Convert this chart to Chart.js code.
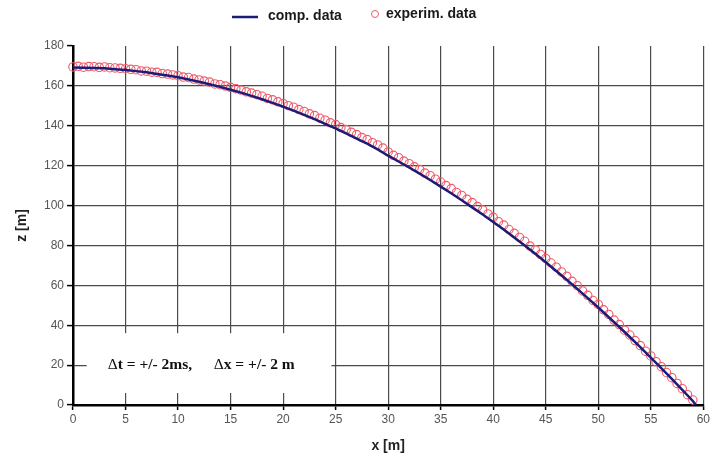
<!DOCTYPE html>
<html>
<head>
<meta charset="utf-8">
<script src="https://cdn.jsdelivr.net/npm/chart.js@4.4.1/dist/chart.umd.min.js"></script>
<style>
html, body { margin: 0; padding: 0; background: #fff; }
#wrap { width: 712px; height: 461px; position: relative; }
</style>
</head>
<body>
<div id="wrap"><canvas id="myChart"></canvas></div>
<script>
// computed trajectory
const compX = [0, 1, 2, 3, 4, 5, 6, 7, 8, 9, 10, 11, 12, 13, 14, 15, 16, 17, 18, 19,
  20, 21, 22, 23, 24, 25, 26, 27, 28, 29, 30, 31, 32, 33, 34, 35, 36, 37, 38, 39,
  40, 41, 42, 43, 44, 45, 46, 47, 48, 49, 50, 51, 52, 53, 54, 55, 56, 57, 58, 59, 59.3]
const compZ = [169.2, 169.1, 169.0, 168.8, 168.4, 168.0, 167.4, 166.8, 166.0, 165.2,
  164.3, 163.2, 162.1, 160.8, 159.5, 158.1, 156.6, 155.0, 153.3, 151.5,
  149.6, 147.6, 145.5, 143.3, 141.0, 138.7, 136.2, 133.6, 131.0, 128.2,
  125.0, 122.1, 119.1, 116.0, 112.8, 109.5, 106.2, 102.7, 99.1, 95.5,
  91.8, 88.0, 84.0, 80.0, 75.8, 71.6, 67.2, 62.8, 58.2, 53.6,
  48.9, 44.0, 39.1, 34.1, 29.0, 23.8, 18.5, 13.1, 7.6, 2.0, 0]

// measured points
const expX = [0, 0.5, 1, 1.5, 2, 2.5, 3, 3.5, 4, 4.5, 5, 5.5, 6, 6.5, 7, 7.5, 8, 8.5, 9, 9.5,
  10, 10.5, 11, 11.5, 12, 12.5, 13, 13.5, 14, 14.5, 15, 15.5, 16, 16.5, 17, 17.5, 18, 18.5, 19, 19.5,
  20, 20.5, 21, 21.5, 22, 22.5, 23, 23.5, 24, 24.5, 25, 25.5, 26, 26.5, 27, 27.5, 28, 28.5, 29, 29.5,
  30, 30.5, 31, 31.5, 32, 32.5, 33, 33.5, 34, 34.5, 35, 35.5, 36, 36.5, 37, 37.5, 38, 38.5, 39, 39.5,
  40, 40.5, 41, 41.5, 42, 42.5, 43, 43.5, 44, 44.5, 45, 45.5, 46, 46.5, 47, 47.5, 48, 48.5, 49, 49.5,
  50, 50.5, 51, 51.5, 52, 52.5, 53, 53.5, 54, 54.5, 55, 55.5, 56, 56.5, 57, 57.5, 58, 58.5, 59]
const expZ = [169.5, 169.8, 169.4, 169.7, 169.6, 169.3, 169.5, 169.1, 169.0, 168.8,
  168.6, 168.3, 168.1, 167.5, 167.4, 166.9, 166.8, 166.2, 165.9, 165.5,
  165.1, 164.4, 164.2, 163.4, 163.0, 162.4, 161.9, 161.0, 160.6, 159.9,
  159.3, 158.6, 157.9, 157.0, 156.4, 155.6, 154.8, 153.7, 153.0, 152.0,
  151.2, 150.1, 149.3, 148.1, 147.2, 146.0, 145.1, 143.8, 142.8, 141.5,
  140.6, 139.1, 138.1, 136.7, 135.6, 134.1, 133.1, 131.5, 130.4, 128.8,
  126.9, 125.2, 124.0, 122.3, 121.0, 119.4, 118.1, 116.3, 115.0, 113.2,
  111.8, 110.0, 108.5, 106.6, 105.1, 103.1, 101.5, 99.5, 97.8, 95.8,
  94.1, 91.9, 90.2, 88.0, 86.1, 84.0, 82.1, 79.7, 77.8, 75.5,
  73.5, 71.2, 69.1, 66.7, 64.5, 62.0, 59.8, 57.2, 55.0, 52.4,
  50.4, 47.7, 45.4, 42.6, 40.3, 37.5, 35.1, 32.3, 29.8, 27.0,
  24.6, 21.7, 19.2, 16.3, 13.7, 10.8, 8.2, 5.2, 2.5]

const xTicks = [0, 60, 5]   // min, max, step
const zTicks = [0, 180, 20]

const navy = '#1c1c78'
const pink = '#ee5a6a'

const compData = compX.map((x, i) => ({ x: x, y: compZ[i] }))
const expData = expX.map((x, i) => ({ x: x, y: expZ[i] }))

// white note box with the error bounds, placed in data units
const noteBox = { x0: 1.3, x1: 24.6, z0: 6, z1: 36 }
const notePlugin = {
  id: 'note',
  beforeDatasetsDraw(chart) {
    const { ctx, scales: { x, y } } = chart
    const l = x.getPixelForValue(noteBox.x0), r = x.getPixelForValue(noteBox.x1)
    const t = y.getPixelForValue(noteBox.z1), b = y.getPixelForValue(noteBox.z0)
    ctx.save()
    ctx.fillStyle = '#fff'
    ctx.fillRect(l, t, r - l, b - t)
    const ty = y.getPixelForValue(20)
    ctx.fillStyle = '#111'
    ctx.textBaseline = 'middle'
    const parts = [[3.3, 't = +/- 2ms,'], [13.4, 'x = +/- 2 m']]
    parts.forEach(([xv, txt]) => {
      let px = x.getPixelForValue(xv)
      ctx.font = '15.5px "Liberation Serif", "Times New Roman", serif'
      ctx.fillText('\u0394', px, ty)
      px += ctx.measureText('\u0394').width
      ctx.font = 'bold 15.5px "Liberation Serif", "Times New Roman", serif'
      ctx.fillText(txt, px, ty)
    })
    ctx.restore()
  }
}

const legendPlugin = {
  id: 'topLegend',
  afterDraw(chart) {
    const ctx = chart.ctx
    ctx.save()
    ctx.strokeStyle = navy
    ctx.lineWidth = 2.5
    ctx.beginPath()
    ctx.moveTo(232, 17)
    ctx.lineTo(258, 17)
    ctx.stroke()
    ctx.strokeStyle = pink
    ctx.lineWidth = 1
    ctx.beginPath()
    ctx.arc(375, 14, 3.5, 0, Math.PI * 2)
    ctx.stroke()
    ctx.fillStyle = '#1a1a1a'
    ctx.font = 'bold 14px "Liberation Sans", Arial, sans-serif'
    ctx.textBaseline = 'middle'
    ctx.fillText('comp. data', 268, 16)
    ctx.fillText('experim. data', 386, 14)
    ctx.restore()
  }
}

new Chart(document.getElementById('myChart'), {
  type: 'scatter',
  data: {
    datasets: [{
      label: 'comp. data',
      data: compData,
      showLine: true,
      borderColor: navy,
      borderWidth: 2.5,
      pointRadius: 0,
      tension: 0,
      order: 1
    }, {
      label: 'experim. data',
      data: expData,
      showLine: false,
      pointStyle: 'circle',
      pointRadius: 4.2,
      borderColor: pink,
      borderWidth: 1.1,
      backgroundColor: 'rgba(0,0,0,0)',
      clip: false,
      order: 2
    }]
  },
  plugins: [notePlugin, legendPlugin],
  options: {
    responsive: true,
    maintainAspectRatio: false,
    animation: false,
    layout: { padding: { left: 0, right: 4, top: 46, bottom: 0 } },
    plugins: {
      legend: { display: false },
      tooltip: { enabled: false }
    },
    scales: {
      x: {
        type: 'linear',
        min: xTicks[0],
        max: xTicks[1],
        afterFit: (scale) => { scale.height = 56 },
        ticks: {
          stepSize: xTicks[2],
          padding: 2,
          color: '#555',
          font: { family: '"Liberation Sans", Arial, sans-serif', size: 12 }
        },
        grid: {
          color: '#4a4a4a',
          lineWidth: 1.2,
          tickLength: 5,
          tickColor: '#000',
          tickWidth: 1.5
        },
        border: { color: '#000', width: 2.5 },
        title: {
          display: true,
          text: 'x [m]',
          color: '#222',
          padding: { top: 0, bottom: 6 },
          font: { family: '"Liberation Sans", Arial, sans-serif', size: 14, weight: 'bold' }
        }
      },
      y: {
        type: 'linear',
        min: zTicks[0],
        max: zTicks[1],
        afterFit: (scale) => { scale.width = 73 },
        ticks: {
          stepSize: zTicks[2],
          padding: 3,
          color: '#555',
          font: { family: '"Liberation Sans", Arial, sans-serif', size: 12 }
        },
        grid: {
          color: (c) => (c.tick && c.tick.value === zTicks[1]) ? 'rgba(0,0,0,0)' : '#4a4a4a',
          lineWidth: 1.2,
          tickLength: 6,
          tickColor: '#000',
          tickWidth: 1.5
        },
        border: { color: '#000', width: 2.5 },
        title: {
          display: true,
          text: 'z [m]',
          color: '#222',
          padding: { top: 14, bottom: 0 },
          font: { family: '"Liberation Sans", Arial, sans-serif', size: 14, weight: 'bold' }
        }
      }
    }
  }
});
</script>
</body>
</html>
